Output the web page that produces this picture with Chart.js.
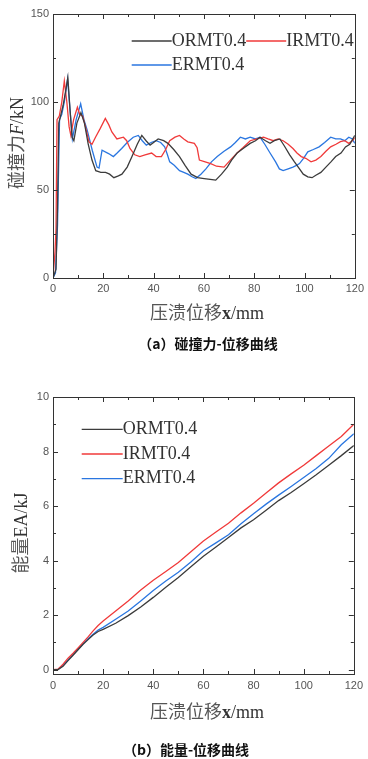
<!DOCTYPE html>
<html lang="zh">
<head>
<meta charset="utf-8">
<title>碰撞力与能量-位移曲线</title>
<script src="https://cdn.jsdelivr.net/npm/chart.js@4.4.1/dist/chart.umd.min.js"></script>
<style>
  body { margin: 0; background: #fff; }
  #page { position: relative; width: 368px; height: 759px; overflow: hidden; background: #fff; }
  canvas { position: absolute; left: 0; }
  .t { position: absolute; white-space: nowrap; line-height: 1; transform: translate(-50%, -50%);
       font-family: "Noto Sans CJK SC", sans-serif; }
  .axis { font-size: 18px; color: #555; }
  .axis .lat { font-family: "Liberation Serif", serif; color: #333; }
  .rot { transform: translate(-50%, -50%) rotate(-90deg); }
  .cap { font-size: 14px; font-weight: bold; color: #111; }
</style>
</head>
<body>
<div id="page">
  <canvas id="forceChart" width="368" height="300" style="top:0"></canvas>
  <canvas id="energyChart" width="368" height="320" style="top:380px"></canvas>

  <div class="t axis" style="left:207px;top:312px">压溃位移<span class="lat"><b>x</b>/mm</span></div>
  <div class="t axis rot" style="left:16px;top:143px">碰撞力<span class="lat"><i>F</i>/kN</span></div>
  <div class="t cap" style="left:208px;top:343px">（a）碰撞力-位移曲线</div>

  <div class="t axis" style="left:207px;top:711px">压溃位移<span class="lat"><b>x</b>/mm</span></div>
  <div class="t axis rot" style="left:20px;top:533px">能量<span class="lat">EA/kJ</span></div>
  <div class="t cap" style="left:186px;top:749px">（b）能量-位移曲线</div>
</div>

<script>
// Series names and colours
const seriesNames = ['ORMT0.4', 'IRMT0.4', 'ERMT0.4'];
const seriesColors = ['#3c3c3c', '#f03a3a', '#2a76e0'];

// (a) force vs displacement
const orX = [0, 1.2, 1.8, 2.3, 3, 4, 5, 5.9, 6.8, 7.6,
  8.3, 9.5, 11.1, 12.5, 14, 15.5, 17, 19, 20.9, 22.5,
  24.2, 26, 27.4, 29.5, 31.4, 33.5, 35.3, 37, 38.6, 40,
  41.8, 44, 45.7, 48, 50.3, 52.5, 54.9, 57.5, 60.1, 62.5,
  64.7, 67, 69.3, 71, 73.2, 76, 78.4, 80.5, 82.3, 84.5,
  86.3, 88, 90.2, 92, 94.1, 96, 98, 99.5, 101.3, 103,
  104.5, 106.5, 108.5, 110.5, 112.4, 114.5, 116.3, 118, 120];
const orF = [0, 5, 40, 88, 92, 98, 106, 114, 95, 80,
  78, 88, 94, 88, 76, 67, 61, 60, 60, 59,
  57, 58, 59, 63, 69, 76, 81, 78, 75.5, 77,
  79, 78, 76.5, 73, 69, 64, 59, 57, 56.5, 56,
  55.6, 59, 63, 67, 71, 74, 76.5, 78, 80, 78,
  76.5, 78, 79, 75, 70, 66, 62, 59, 57.5, 57,
  58.4, 60, 63, 66, 69, 71, 74.5, 76, 81];

const irX = [0, 0.8, 1.2, 1.6, 2.5, 3.5, 4.5, 5.5, 6.4, 7.1,
  8.2, 9.7, 10.6, 11.8, 12.9, 14.3, 15.5, 16.9, 18.8, 20.8,
  22.2, 23.4, 25.4, 28, 29.3, 30.6, 32.5, 34.5, 36.6, 39.2,
  41, 43.1, 44.8, 46.4, 48.5, 50.3, 52, 53.6, 56.2, 57.3,
  58.2, 60.5, 62.7, 65, 68, 70.5, 73.2, 75.5, 78.4, 81,
  83.7, 85.5, 87.6, 89.5, 91.5, 93.5, 95.4, 97, 98.7, 100.5,
  102.6, 104.5, 106.5, 108.5, 110.4, 112.5, 114.3, 116, 117.6, 119,
  120];
const irF = [0, 15, 28, 90, 92, 100, 112, 100, 86, 81,
  90, 97, 93, 92, 86, 77.4, 76, 80, 85, 90.7,
  87, 83, 79, 80, 78, 73.6, 70, 69, 70, 71,
  69, 69, 73, 78, 80, 81, 79, 77.4, 76.5, 74,
  67, 66, 65, 63.5, 63, 67, 71, 74, 78, 79,
  80, 79, 78, 79, 78, 76, 73.6, 71, 69, 68,
  66, 67, 69, 72, 74.5, 76, 77.5, 78, 76.5, 78,
  79.8];

const erX = [0, 1, 1.8, 2.6, 3.5, 4.5, 5.8, 6.8, 7.7, 9.2,
  11, 12.3, 13.6, 15.6, 17.5, 18.3, 19.5, 22.1, 24, 25.5,
  27.3, 29.5, 31.9, 33.9, 35.5, 37.1, 39, 41, 42.8, 44.4,
  45.5, 46.4, 48.2, 50.3, 52, 53.6, 55.3, 56.8, 58.8, 60.8,
  63, 65.3, 68, 70.6, 72.5, 74.5, 76.5, 78.4, 80.5, 82.3,
  84.2, 86.3, 88.5, 90, 91.5, 93.5, 95.4, 96.8, 98, 99.6,
  101.3, 103.5, 105.8, 108, 110.4, 112.4, 114.3, 116, 117.6, 119,
  120];
const erF = [0, 3, 30, 90, 93, 100, 113, 95, 79, 90,
  99, 90, 84, 72.6, 63, 62.5, 72.6, 70.7, 69, 71,
  73.6, 77, 80, 81, 78, 75.5, 77, 78, 77, 74.5,
  70, 66, 64, 61, 60, 59, 57.5, 56.5, 59, 62,
  66, 69, 72, 74.5, 77, 80, 79, 80, 79, 80,
  76, 71, 66, 62, 61, 62, 63, 64, 65, 68,
  71.7, 73, 74.5, 77, 80, 79, 79, 78, 80, 79,
  76.5];

// (b) absorbed energy vs displacement
const eaX = [0, 2, 4, 6, 8, 10, 12, 14, 16, 18,
  20, 25, 30, 35, 40, 45, 50, 55, 60, 65,
  70, 75, 80, 85, 90, 95, 100, 105, 110, 115, 120];
const orEA = [0, 0, 0.12, 0.33, 0.53, 0.73, 0.93, 1.1, 1.27, 1.4,
  1.48, 1.7, 1.98, 2.3, 2.65, 3.02, 3.38, 3.77, 4.16, 4.5,
  4.85, 5.2, 5.5, 5.85, 6.2, 6.5, 6.82, 7.15, 7.5, 7.85, 8.22];
const irEA = [0, 0.02, 0.2, 0.42, 0.6, 0.8, 1.0, 1.2, 1.42, 1.62,
  1.78, 2.15, 2.52, 2.92, 3.28, 3.6, 3.93, 4.32, 4.72, 5.05,
  5.37, 5.75, 6.1, 6.48, 6.85, 7.18, 7.5, 7.85, 8.2, 8.55, 9.0];
const erEA = [0, 0.01, 0.15, 0.36, 0.55, 0.75, 0.95, 1.13, 1.3, 1.45,
  1.55, 1.85, 2.15, 2.52, 2.9, 3.25, 3.57, 3.95, 4.36, 4.65,
  4.95, 5.35, 5.72, 6.07, 6.4, 6.72, 7.05, 7.38, 7.75, 8.25, 8.65];

// Tick values
const xTicks = [0, 20, 40, 60, 80, 100, 120];
const xMinorTicks = [10, 30, 50, 70, 90, 110];
const forceTicks = [0, 50, 100, 150];
const forceMinorTicks = [25, 75, 125];
const energyTicks = [0, 2, 4, 6, 8, 10];
const energyMinorTicks = [1, 3, 5, 7, 9];

const toPoints = (xs, ys) => xs.map((x, i) => ({ x: x, y: ys[i] }));

function makeDatasets(pairs) {
  return pairs.map((p, i) => ({
    label: seriesNames[i],
    data: toPoints(p[0], p[1]),
    borderColor: seriesColors[i],
    borderWidth: 1.3,
    pointRadius: 0,
    tension: 0,
    fill: false
  }));
}

// Box around the plot with inward ticks on all four sides
const frameTicks = {
  id: 'frameTicks',
  afterDraw(chart, args, o) {
    const { ctx, chartArea: a, scales: { x, y } } = chart;
    ctx.save();
    ctx.strokeStyle = '#333';
    ctx.lineWidth = 1;
    ctx.strokeRect(Math.round(a.left) + 0.5, Math.round(a.top) + 0.5,
      Math.round(a.right - a.left), Math.round(a.bottom - a.top));
    const seg = (x1, y1, x2, y2) => { ctx.beginPath(); ctx.moveTo(x1, y1); ctx.lineTo(x2, y2); ctx.stroke(); };
    const xt = (vals, len) => vals.forEach(v => {
      const p = Math.round(x.getPixelForValue(v)) + 0.5;
      seg(p, a.bottom, p, a.bottom - len);
      seg(p, a.top, p, a.top + len);
    });
    const yt = (vals, len) => vals.forEach(v => {
      const p = Math.round(y.getPixelForValue(v)) + 0.5;
      seg(a.left, p, a.left + len, p);
      seg(a.right, p, a.right - len, p);
    });
    xt(o.xMajor, 5); xt(o.xMinor, 3);
    yt(o.yMajor, 5); yt(o.yMinor, 3);
    ctx.restore();
  }
};

// Legend drawn inside the plot: short line then the label
const lineLegend = {
  id: 'lineLegend',
  afterDraw(chart, args, o) {
    const { ctx, chartArea: a } = chart;
    ctx.save();
    ctx.font = '18px "Liberation Serif", serif';
    ctx.textBaseline = 'middle';
    let x = a.left + o.x, y = a.top + o.y;
    chart.data.datasets.forEach((ds, i) => {
      if (i > 0 && i % o.perRow === 0) { x = a.left + o.x; y += o.rowGap; }
      ctx.strokeStyle = ds.borderColor;
      ctx.lineWidth = 1.3;
      ctx.beginPath(); ctx.moveTo(x, y); ctx.lineTo(x + o.lineLen, y); ctx.stroke();
      ctx.fillStyle = '#333';
      ctx.fillText(ds.label, x + o.lineLen, y);
      x += o.lineLen + ctx.measureText(ds.label).width;
    });
    ctx.restore();
  }
};

function makeChart(id, datasets, cfg) {
  const tickFont = { family: '"Liberation Sans", Arial, sans-serif', size: 11 };
  return new Chart(document.getElementById(id), {
    type: 'line',
    data: { datasets: datasets },
    plugins: [frameTicks, lineLegend],
    options: {
      responsive: false,
      animation: false,
      devicePixelRatio: 1,
      layout: { padding: { top: cfg.top, right: 9, left: 0, bottom: 0 } },
      plugins: {
        legend: { display: false },
        tooltip: { enabled: false },
        frameTicks: { xMajor: xTicks, xMinor: xMinorTicks, yMajor: cfg.yTicks, yMinor: cfg.yMinor },
        lineLegend: cfg.legend
      },
      scales: {
        x: {
          type: 'linear', min: 0, max: 120,
          grid: { display: false, drawTicks: false },
          border: { display: false },
          afterBuildTicks: s => { s.ticks = xTicks.map(v => ({ value: v })); },
          afterFit: s => { s.height = cfg.xHeight; },
          ticks: { font: tickFont, color: '#555', padding: cfg.xPad, maxRotation: 0 }
        },
        y: {
          type: 'linear', min: cfg.yMin, max: cfg.yMax,
          grid: { display: false, drawTicks: false },
          border: { display: false },
          afterBuildTicks: s => { s.ticks = cfg.yTicks.map(v => ({ value: v })); },
          afterFit: s => { s.width = 53; },
          ticks: { font: tickFont, color: '#555', padding: 4 }
        }
      }
    }
  });
}

makeChart('forceChart',
  makeDatasets([[orX, orF], [irX, irF], [erX, erF]]),
  {
    top: 14, xHeight: 22, xPad: 4,
    yMin: 0, yMax: 150, yTicks: forceTicks, yMinor: forceMinorTicks,
    legend: { x: 78.7, y: 27, lineLen: 40, perRow: 2, rowGap: 24 }
  });

makeChart('energyChart',
  makeDatasets([[eaX, orEA], [eaX, irEA], [eaX, erEA]]),
  {
    top: 17, xHeight: 26, xPad: 5,
    yMin: -0.16, yMax: 10, yTicks: energyTicks, yMinor: energyMinorTicks,
    legend: { x: 28.7, y: 32.3, lineLen: 41, perRow: 1, rowGap: 24.7 }
  });
</script>
</body>
</html>
